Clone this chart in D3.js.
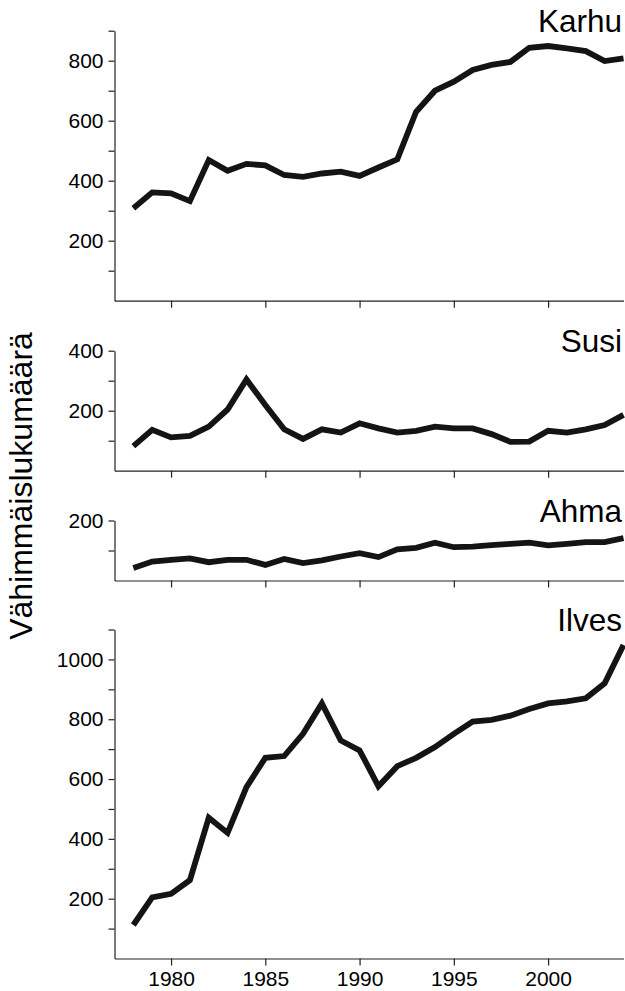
<!DOCTYPE html>
<html>
<head>
<meta charset="utf-8">
<script src="https://cdn.jsdelivr.net/npm/d3@7"></script>
<style>
  body { margin: 0; background: #fff; }
  svg { display: block; font-family: "Liberation Sans", Arial, sans-serif; }
</style>
</head>
<body>
<svg id="chart"></svg>
<script>
const years = [1978, 1979, 1980, 1981, 1982, 1983, 1984, 1985, 1986, 1987, 1988, 1989, 1990,
  1991, 1992, 1993, 1994, 1995, 1996, 1997, 1998, 1999, 2000, 2001, 2002, 2003, 2004];

const karhu = [308, 361, 358, 332, 469, 433, 456, 451, 419, 413, 424, 430, 416,
  444, 471, 630, 700, 730, 769, 786, 796, 843, 849, 841, 832, 799, 808];
const susi = [82, 136, 111, 116, 147, 204, 304, 219, 138, 106, 138, 127, 158,
  141, 127, 133, 147, 141, 141, 122, 96, 97, 133, 127, 138, 152, 186];
const ahma = [42, 63, 69, 74, 61, 69, 69, 52, 72, 58, 67, 80, 91,
  78, 104, 109, 126, 111, 113, 118, 122, 126, 117, 122, 128, 128, 141];
const ilves = [112, 204, 216, 262, 471, 420, 573, 671, 677, 751, 853, 729, 696,
  576, 643, 671, 707, 751, 792, 798, 812, 834, 853, 860, 870, 920, 1048];

const yearTicks = [1980, 1985, 1990, 1995, 2000];
const karhuTicks = [100, 200, 300, 400, 500, 600, 700, 800, 900];
const susiTicks = [100, 200, 300, 400];
const ahmaTicks = [100, 200];
const ilvesTicks = [100, 200, 300, 400, 500, 600, 700, 800, 900, 1000, 1100];

const labelEvery = 200;
const yTitle = 'Vähimmäislukumäärä';

const width = 625;
const height = 991;

const svg = d3.select('#chart')
    .attr('width', width)
    .attr('height', height);

const x = d3.scaleLinear()
    .domain([1977, 2004])
    .range([114.5, 623.5]);

// one panel per species, stacked top to bottom
const panels = [
  { name: 'Karhu', values: karhu, max: 900, ticks: karhuTicks, top: 30.7, bottom: 300.7 },
  { name: 'Susi', values: susi, max: 400, ticks: susiTicks, top: 350.7, bottom: 470.7 },
  { name: 'Ahma', values: ahma, max: 200, ticks: ahmaTicks, top: 520.5, bottom: 580.5 },
  { name: 'Ilves', values: ilves, max: 1100, ticks: ilvesTicks, top: 629.5, bottom: 958.5 }
];

panels.forEach((p, i) => {
  const last = i === panels.length - 1;

  const y = d3.scaleLinear()
      .domain([0, p.max])
      .range([p.bottom, p.top]);

  const g = svg.append('g');

  // x axis
  const gx = g.append('g')
      .attr('transform', `translate(0,${p.bottom})`)
      .call(d3.axisBottom(x)
        .tickValues(yearTicks)
        .tickSize(7)
        .tickSizeOuter(0)
        .tickPadding(6)
        .tickFormat(last ? d3.format('d') : () => ''));

  // y axis
  const gy = g.append('g')
      .attr('transform', `translate(${x.range()[0]},0)`)
      .call(d3.axisLeft(y)
        .tickValues(p.ticks)
        .tickSize(6)
        .tickSizeOuter(0)
        .tickPadding(5)
        .tickFormat(d => d % labelEvery === 0 ? d : ''));

  [gx, gy].forEach(a => {
    a.select('.domain').attr('stroke', '#222').attr('stroke-width', 1.2);
    a.selectAll('.tick line').attr('stroke', '#222').attr('stroke-width', 1.2);
    a.selectAll('.tick text')
        .attr('fill', '#000')
        .style('font-size', '21px')
        .style('font-family', '"Liberation Sans", Arial, sans-serif');
  });

  const line = d3.line()
      .x((d, j) => x(years[j]))
      .y(d => y(d));

  g.append('path')
      .datum(p.values)
      .attr('fill', 'none')
      .attr('stroke', '#141414')
      .attr('stroke-width', 5.8)
      .attr('stroke-linejoin', 'miter')
      .attr('stroke-linecap', 'butt')
      .attr('d', line);

  g.append('text')
      .attr('x', 622)
      .attr('y', p.top + 1)
      .attr('text-anchor', 'end')
      .attr('fill', '#000')
      .style('font-size', '31.5px')
      .text(p.name);
});

svg.append('text')
    .attr('transform', 'translate(32,486) rotate(-90)')
    .attr('text-anchor', 'middle')
    .attr('fill', '#000')
    .style('font-size', '32px')
    .text(yTitle);
</script>
</body>
</html>
